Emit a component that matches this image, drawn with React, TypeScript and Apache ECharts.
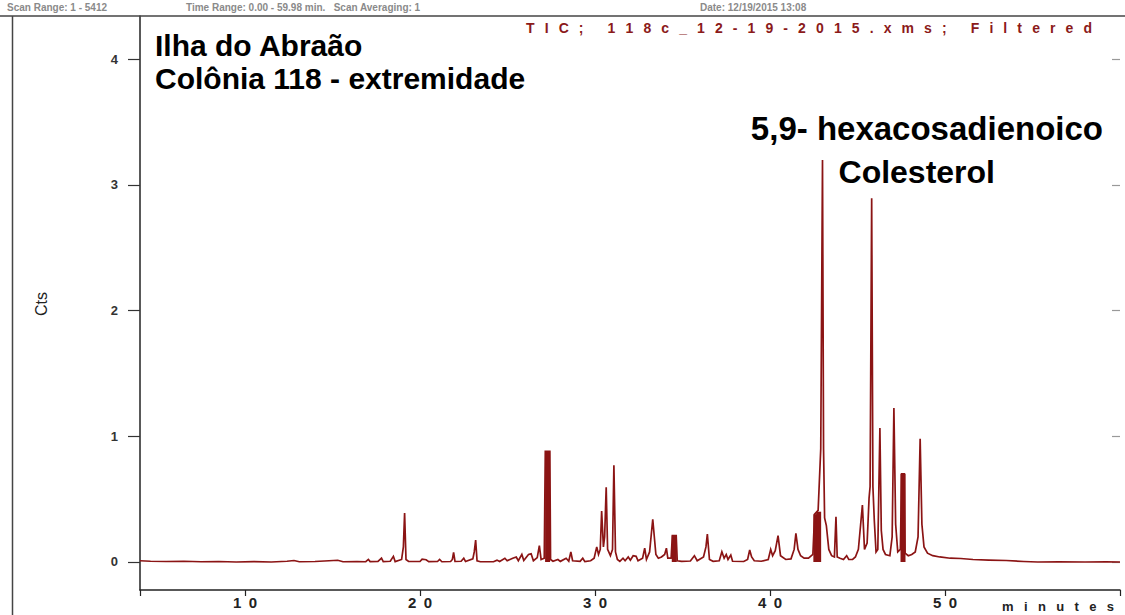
import React, { useEffect, useRef } from "react";
import * as echarts from "echarts";

// Total ion chromatogram, [retention time (min), counts]
const baselineEarly: [number, number][] = [
  [4.0, 0.01], [4.6, 0.006], [5.5, 0.004], [6.5, 0.006], [7.5, 0.002], [8.5, 0.004],
  [9.5, 0.0], [10.5, 0.003], [11.5, 0.0], [12.4, 0.006], [12.8, 0.012], [13.1, 0.002],
  [14.0, 0.004], [14.8, 0.01], [15.3, 0.014], [15.6, 0.002], [16.4, 0.004], [16.9, 0.002],
];

const peaks17to30: [number, number][] = [
  [17.05, 0.02], [17.15, 0.003], [17.6, 0.004], [17.8, 0.03], [17.9, 0.003], [18.3, 0.006],
  [18.48, 0.045], [18.58, 0.003], [18.95, 0.02], [19.05, 0.12], [19.12, 0.39], [19.2, 0.02],
  [19.35, 0.005], [20.0, 0.004], [20.12, 0.022], [20.35, 0.018], [20.5, 0.003], [21.0, 0.004],
  [21.12, 0.02], [21.25, 0.002], [21.75, 0.004], [21.85, 0.02], [21.92, 0.077], [22.0, 0.004],
  [22.35, 0.006], [22.5, 0.03], [22.6, 0.004], [23.02, 0.025], [23.1, 0.08], [23.18, 0.175],
  [23.26, 0.01], [23.45, 0.002], [24.2, 0.002], [24.4, 0.015], [24.55, 0.004], [24.85, 0.03],
  [24.98, 0.01], [25.3, 0.03], [25.5, 0.04], [25.62, 0.01], [25.82, 0.06], [25.93, 0.012],
  [26.2, 0.06], [26.35, 0.065], [26.48, 0.01], [26.7, 0.035], [26.82, 0.13], [26.92, 0.02],
  [27.1, 0.03], [27.16, 0.88], [27.42, 0.88], [27.46, 0.02], [27.6, 0.006], [27.88, 0.02],
  [28.02, 0.005], [28.35, 0.03], [28.5, 0.006], [28.62, 0.08], [28.72, 0.01], [29.15, 0.005],
  [29.3, 0.03], [29.42, 0.003], [29.75, 0.01],
];

const peaks30to42: [number, number][] = [
  [29.95, 0.03], [30.1, 0.12], [30.2, 0.06], [30.3, 0.1], [30.38, 0.405], [30.48, 0.12],
  [30.55, 0.2], [30.64, 0.594], [30.72, 0.1], [30.88, 0.05], [31.0, 0.1], [31.08, 0.77],
  [31.17, 0.08], [31.28, 0.02], [31.42, 0.005], [31.6, 0.03], [31.72, 0.01], [31.9, 0.04],
  [32.02, 0.015], [32.18, 0.05], [32.35, 0.045], [32.46, 0.01], [32.72, 0.03], [32.84, 0.11],
  [32.94, 0.02], [33.12, 0.08], [33.3, 0.34], [33.48, 0.06], [33.62, 0.03], [33.8, 0.04],
  [33.98, 0.06], [34.08, 0.11], [34.16, 0.03], [34.35, 0.03], [34.42, 0.21], [34.64, 0.21],
  [34.7, 0.01], [34.95, 0.005], [35.45, 0.008], [35.68, 0.05], [35.84, 0.01], [36.2, 0.04],
  [36.34, 0.12], [36.42, 0.222], [36.54, 0.02], [36.75, 0.005], [37.1, 0.01], [37.25, 0.082],
  [37.38, 0.03], [37.5, 0.06], [37.6, 0.02], [37.76, 0.055], [37.86, 0.006], [38.5, 0.004],
  [38.72, 0.02], [38.84, 0.095], [38.95, 0.04], [39.1, 0.01], [39.5, 0.006], [39.9, 0.02],
  [40.04, 0.1], [40.15, 0.05], [40.3, 0.09], [40.46, 0.21], [40.6, 0.05], [40.9, 0.02],
  [41.2, 0.025], [41.38, 0.1], [41.48, 0.228], [41.6, 0.1], [41.75, 0.05], [41.95, 0.03],
];

const peaks42to60: [number, number][] = [
  [42.2, 0.03], [42.45, 0.06], [42.55, 0.38], [42.75, 0.41], [42.9, 0.9], [43.0, 3.197],
  [43.06, 0.9], [43.12, 0.35], [43.22, 0.29], [43.36, 0.1], [43.52, 0.05], [43.68, 0.04],
  [43.77, 0.36], [43.84, 0.04], [44.0, 0.03], [44.2, 0.02], [44.38, 0.05], [44.5, 0.02],
  [44.72, 0.02], [44.88, 0.04], [45.05, 0.1], [45.28, 0.453], [45.4, 0.1], [45.55, 0.15],
  [45.66, 0.506], [45.72, 0.6], [45.81, 2.892], [45.88, 0.6], [45.96, 0.33], [46.06, 0.08],
  [46.16, 0.1], [46.28, 1.065], [46.36, 0.25], [46.46, 0.1], [46.6, 0.06], [46.85, 0.05],
  [46.98, 0.2], [47.08, 1.225], [47.18, 0.3], [47.3, 0.08], [47.45, 0.1], [47.52, 0.7],
  [47.68, 0.7], [47.72, 0.07], [47.9, 0.05], [48.1, 0.06], [48.3, 0.08], [48.46, 0.2],
  [48.58, 0.98], [48.68, 0.3], [48.8, 0.12], [49.0, 0.07], [49.3, 0.05], [49.7, 0.04],
  [50.3, 0.03], [50.9, 0.028], [51.6, 0.02], [52.5, 0.015], [53.5, 0.012], [54.5, 0.004],
  [55.3, 0.0], [56.5, 0.001], [58.0, 0.0], [59.2, 0.002], [60.0, 0.0],
];

// Broad, saturated peak bodies drawn as solid columns [time, counts]
const solidPeakBodies: [number, number][] = [
  [27.29, 0.88], [34.53, 0.21], [42.62, 0.38], [42.78, 0.4], [47.6, 0.7],
];

const yTickValues = [0, 1, 2, 3, 4];
const xLabelValues = [10, 20, 30, 40, 50];
const xTickValues = [4, 10, 20, 30, 40, 50, 60];

const sampleLines = ["Ilha do Abraão", "Colônia 118 - extremidade"];
const peakNames = ["5,9- hexacosadienoico", "Colesterol"];
const traceTitle = "TIC; 118c_12-19-2015.xms; Filtered";
const xAxisName = "minutes";
const yAxisName = "Cts";
const headerParts = [
  "Scan Range: 1 - 5412",
  "Time Range: 0.00 - 59.98 min.   Scan Averaging: 1",
  "Date: 12/19/2015 13:08",
];

const FONT = '"Liberation Sans", Arial, Helvetica, sans-serif';
const TRACE_COLOR = "#8b1414";

let measureCtx: CanvasRenderingContext2D | null = null;
function measure(text: string, font: string): number {
  if (!measureCtx) measureCtx = document.createElement("canvas").getContext("2d");
  if (!measureCtx) return text.length * 8;
  measureCtx.font = font;
  return measureCtx.measureText(text).width;
}

// Letter-spaced text: characters spread evenly between x0 and x1
function spacedText(
  str: string, x0: number, x1: number, y: number,
  size: number, weight: string, color: string
): any[] {
  const font = `${weight} ${size}px ${FONT}`;
  const chars = Array.from(str);
  const widths = chars.map((c) => measure(c, font));
  const natural = widths.reduce((a, b) => a + b, 0);
  const gap = (x1 - x0 - natural) / Math.max(1, chars.length - 1);
  let x = x0;
  const out: any[] = [];
  chars.forEach((c, i) => {
    if (c.trim()) {
      out.push({
        type: "text", x, y, z: 100,
        style: { text: c, fontFamily: FONT, fontSize: size, fontWeight: weight, fill: color, align: "left", verticalAlign: "middle" },
      });
    }
    x += widths[i] + gap;
  });
  return out;
}

function label(text: string, x: number, y: number, size: number, align = "left"): any {
  return {
    type: "text", x, y, z: 100,
    style: { text, fontFamily: FONT, fontSize: size, fontWeight: "bold", fill: "#000", align, verticalAlign: "middle" },
  };
}

function headerText(text: string, x: number): any {
  return {
    type: "text", x, y: 7, z: 95,
    style: { text, fontFamily: FONT, fontSize: 10, fontWeight: "bold", fill: "#8a8a8a", align: "left", verticalAlign: "middle" },
  };
}

export default function App() {
  const ref = useRef<HTMLDivElement>(null);

  useEffect(() => {
    if (!ref.current) return;
    const chart = echarts.init(ref.current, undefined, { renderer: "svg" });
    const data = [...baselineEarly, ...peaks17to30, ...peaks30to42, ...peaks42to60];

    const graphics: any[] = [
      // frame lines of the printout
      { type: "line", z: 90, shape: { x1: 0, y1: 16, x2: 1125, y2: 16 }, style: { stroke: "#444", lineWidth: 1.5 } },
      { type: "line", z: 90, shape: { x1: 12.5, y1: 16, x2: 12.5, y2: 615 }, style: { stroke: "#444", lineWidth: 1.5 } },
      headerText(headerParts[0], 7),
      headerText(headerParts[1], 186),
      headerText(headerParts[2], 700),
      ...spacedText(traceTitle, 526, 1092, 28, 14, "bold", "#8b1a1a"),
      ...spacedText(xAxisName, 1002, 1114, 606, 13, "bold", "#222"),
      {
        type: "text", x: 41, y: 304, rotation: Math.PI / 2, z: 100,
        style: { text: yAxisName, fontFamily: FONT, fontSize: 16, fill: "#222", align: "center", verticalAlign: "middle" },
      },
      label(sampleLines[0], 155, 45, 30),
      label(sampleLines[1], 155, 78, 30),
      label(peakNames[0], 1103, 128, 33, "right"),
      label(peakNames[1], 995, 172, 32, "right"),
    ];

    chart.setOption({
      animation: false,
      backgroundColor: "#fff",
      grid: { left: 140, right: 5, top: 16, bottom: 25, containLabel: false },
      xAxis: {
        type: "value",
        min: 4,
        max: 60,
        axisLine: { show: true, onZero: false, lineStyle: { color: "#222", width: 1.5 } },
        axisTick: { show: true, inside: false, length: 6, customValues: xTickValues, lineStyle: { color: "#222", width: 1.2 } },
        axisLabel: {
          show: true,
          customValues: xLabelValues,
          margin: 5,
          fontFamily: FONT,
          fontSize: 15,
          fontWeight: "bold",
          color: "#222",
          formatter: (v: number) => Array.from(String(v)).join("\u2002"),
        },
        splitLine: { show: false },
      },
      yAxis: [
        {
          type: "value",
          min: -0.2227,
          max: 4.342,
          axisLine: { show: true, lineStyle: { color: "#222", width: 1.5 } },
          axisTick: { show: true, inside: false, length: 12, customValues: yTickValues, lineStyle: { color: "#333", width: 1.2 } },
          axisLabel: {
            show: true,
            customValues: yTickValues,
            margin: 22,
            fontFamily: FONT,
            fontSize: 13,
            fontWeight: "bold",
            color: "#333",
          },
          splitLine: { show: false },
        },
        {
          type: "value",
          position: "right",
          min: -0.2227,
          max: 4.342,
          axisLine: { show: false },
          axisTick: { show: true, inside: true, length: 8, customValues: yTickValues, lineStyle: { color: "#999", width: 1.2 } },
          axisLabel: { show: false },
          splitLine: { show: false },
        },
      ],
      series: [
        {
          type: "line",
          data,
          showSymbol: false,
          symbol: "none",
          lineStyle: { color: TRACE_COLOR, width: 1.7, join: "miter" },
          z: 5,
        },
        {
          type: "bar",
          data: solidPeakBodies,
          barWidth: 5,
          itemStyle: { color: TRACE_COLOR },
          z: 4,
        },
      ],
      graphic: graphics,
    });

    return () => chart.dispose();
  }, []);

  return (
    <div
      ref={ref}
      style={{ position: "fixed", left: 0, top: 0, width: 1125, height: 615, background: "#fff" }}
    />
  );
}
